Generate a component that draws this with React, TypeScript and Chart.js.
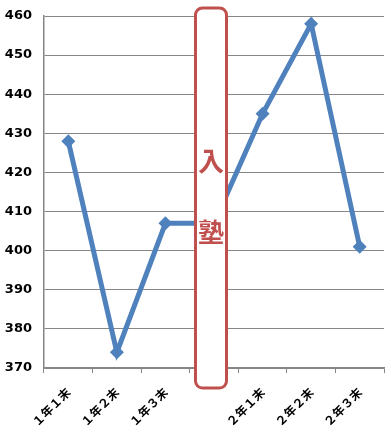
import React, { useEffect, useRef } from "react";
import { Chart, registerables } from "chart.js";
Chart.register(...registerables);

const categories = ["１年１末", "１年２末", "１年３末", "", "２年１末", "２年２末", "２年３末"];
const scores = [428, 374, 407, 407, 435, 458, 401];
const yMin = 370;
const yMax = 460;
const yStep = 10;
const boxIndex = 3;
const boxChars = ["入", "塾"];

const boxPlugin = {
  id: "boxPlugin",
  afterDatasetsDraw(chart: any) {
    const { ctx, chartArea, scales } = chart;
    const cx = scales.x.getPixelForValue(boxIndex) - 3;
    const w = 31;
    const x0 = cx - w / 2;
    const y0 = chartArea.top - 8;
    const h = chartArea.bottom + 20 - y0;
    const r = 7;
    ctx.save();
    ctx.beginPath();
    ctx.roundRect(x0, y0, w, h, r);
    ctx.fillStyle = "#ffffff";
    ctx.fill();
    ctx.lineWidth = 3;
    ctx.strokeStyle = "#C0504D";
    ctx.stroke();
    ctx.fillStyle = "#C0504D";
    ctx.font = "bold 26px 'Noto Sans CJK JP'";
    ctx.textAlign = "center";
    ctx.textBaseline = "middle";
    ctx.fillText(boxChars[0], cx, 161);
    ctx.fillText(boxChars[1], cx, 232);
    ctx.restore();
  },
};

export default function App() {
  const ref = useRef<HTMLCanvasElement>(null);
  useEffect(() => {
    document.body.style.margin = "0";
    const chart = new Chart(ref.current!, {
      type: "line",
      data: {
        labels: categories,
        datasets: [
          {
            data: scores,
            borderColor: "#4F81BD",
            backgroundColor: "#4F81BD",
            borderWidth: 5,
            pointStyle: "rectRot",
            pointRadius: 7,
            pointBorderWidth: 0,
            tension: 0,
          },
        ],
      },
      options: {
        responsive: false,
        animation: false,
        layout: { padding: { top: 16, right: 7, left: 0, bottom: 0 } },
        plugins: { legend: { display: false }, tooltip: { enabled: false } },
        scales: {
          x: {
            offset: true,
            grid: {
              offset: true,
              drawOnChartArea: false,
              drawTicks: true,
              tickLength: 5,
              color: "#868686",
            },
            border: { color: "#868686", width: 1.5 },
            ticks: {
              minRotation: 45,
              maxRotation: 45,
              color: "#000",
              font: { family: "'Noto Sans CJK JP'", size: 12, weight: "bold" },
              padding: 12,
            },
            afterFit(s: any) {
              s.height = 66;
              s.paddingLeft = 0;
              s.paddingRight = 0;
            },
          },
          y: {
            min: yMin,
            max: yMax,
            ticks: {
              stepSize: yStep,
              color: "#000",
              font: { family: "'DejaVu Sans'", size: 13, weight: "bold" },
              padding: 12,
            },
            grid: { color: "#868686", lineWidth: 1, drawTicks: false },
            border: { color: "#868686", width: 1.5 },
            afterFit(s: any) {
              s.width = 44;
              s.paddingTop = 0;
              s.paddingBottom = 0;
            },
          },
        },
      },
      plugins: [boxPlugin],
    });
    return () => chart.destroy();
  }, []);
  return (
    <div style={{ position: "absolute", left: 0, top: 0, width: 391, height: 434, background: "#fff" }}>
      <canvas ref={ref} width={391} height={434} />
    </div>
  );
}
